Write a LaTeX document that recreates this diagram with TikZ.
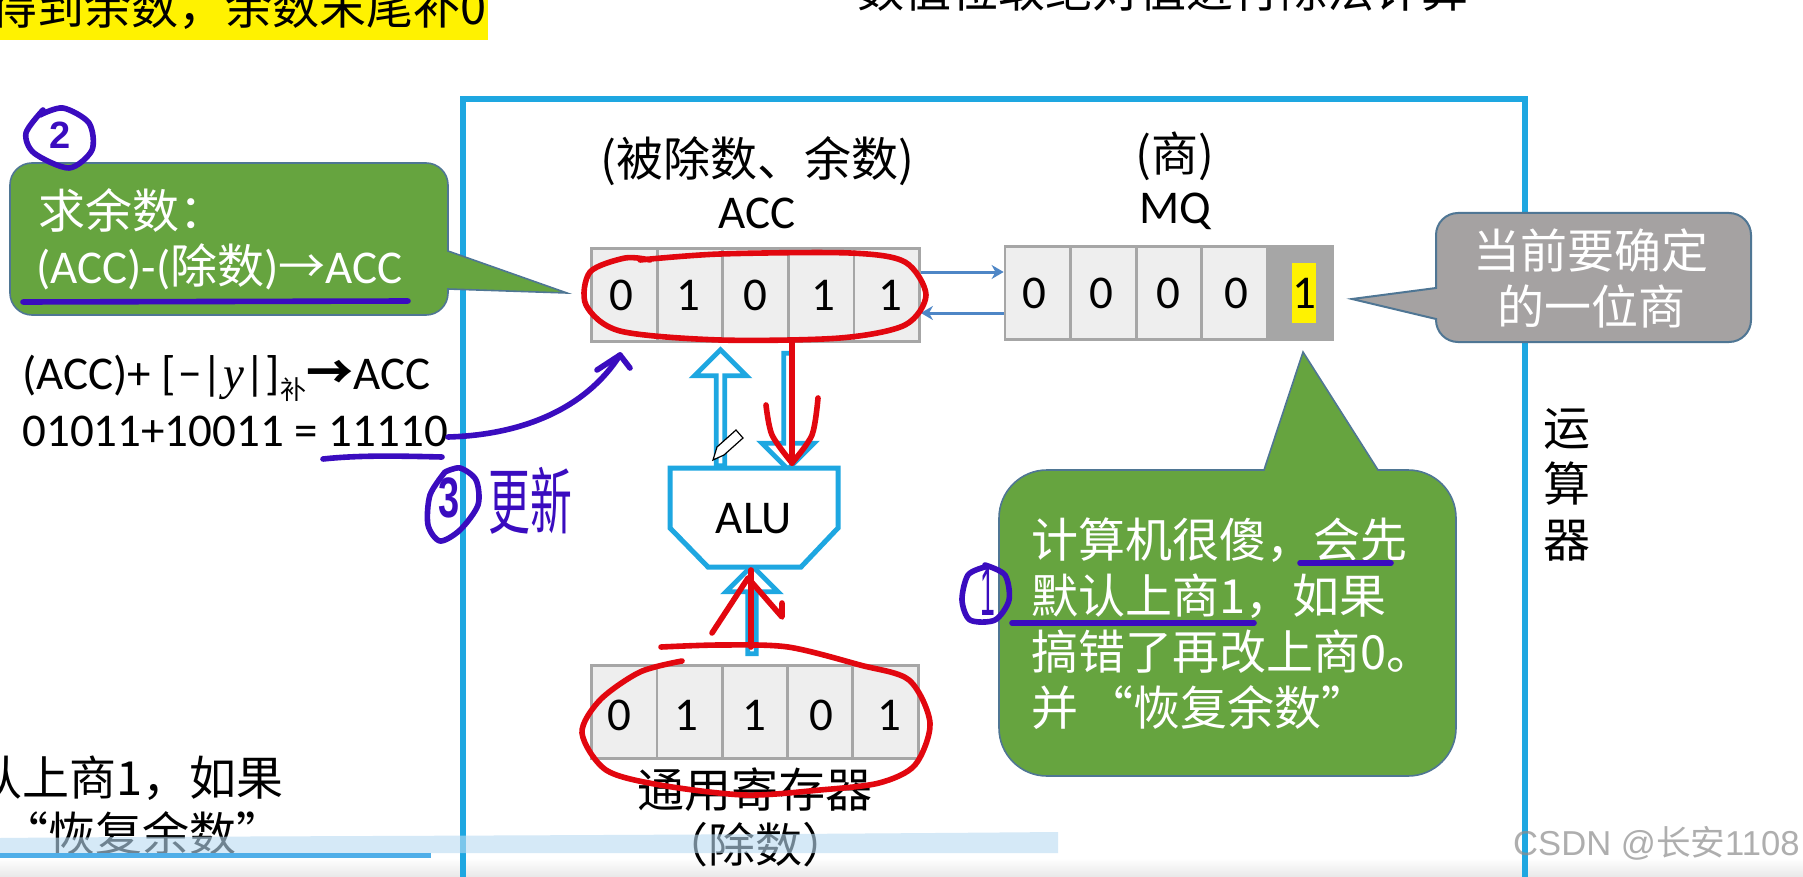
\documentclass[tikz,border=0pt]{standalone}
\usepackage{fontspec}
\setmainfont{Carlito}
\newfontfamily\cjk{Noto Sans CJK SC}
\newfontfamily\hand{Liberation Sans}
\newfontfamily\slanty{Liberation Serif}
\usetikzlibrary{shapes.arrows, arrows.meta}
\definecolor{framebl}{HTML}{1EA7E1}
\definecolor{cellbox}{HTML}{EEEEEE}
\definecolor{cellborder}{HTML}{A6A6A6}
\definecolor{linkbl}{HTML}{4E86C6}
\definecolor{greenbox}{HTML}{66A43F}
\definecolor{greyborder}{HTML}{4F7694}
\definecolor{greybox}{HTML}{A5A2A2}
\definecolor{penred}{HTML}{E2070F}
\definecolor{penpurple}{HTML}{3A0CBF}
\definecolor{barpale}{HTML}{B9DBF2}
\definecolor{bardark}{HTML}{4FAEE8}

\begin{document}
\begin{tikzpicture}[
    x=0.5pt, y=-0.5pt,
    every node/.style={font=\fontsize{23.5}{28}\selectfont, inner sep=0pt},
    cell/.style={rectangle, draw=cellborder, fill=cellbox, line width=1.4pt, minimum width=32.8pt, minimum height=46.5pt},
    blockarrow/.style={single arrow, draw=framebl, fill=white, line width=2.4pt, single arrow head extend=6pt, minimum width=26pt, single arrow tip angle=90},
    callgreen/.style={fill=greenbox, draw=greyborder, line width=0.8pt},
    callgrey/.style={fill=greybox, draw=greyborder, line width=1pt},
    redpen/.style={draw=penred, line width=2.8pt, line cap=round, line join=round},
    purplepen/.style={draw=penpurple, line width=2.8pt, line cap=round, line join=round},
    link/.style={linkbl, line width=1.5pt, -{Stealth[length=6pt,width=7pt]}}
]
\useasboundingbox (0,0) rectangle (1803,877);
\fill[white] (0,0) rectangle (1803,877);

% Bottom shade of the player
\shade[top color=white, bottom color=black!9] (0,858) rectangle (1803,877);

% Top lines, cut by the edge
\fill[yellow] (0,0) rectangle (488,40);
\node[anchor=east] (topleft) at (487,7) {\cjk 得到余数，余数末尾补0};
\node (topright) at (1163,-11) {\cjk 数值位取绝对值进行除法计算};

% Frame of the unit
\draw[framebl, line width=2.6pt] (463,900) -- (463,99) -- (1525,99) -- (1525,900);
\node[align=center] (unit) at (1567,485) {\cjk 运\\\cjk 算\\\cjk 器};

% Labels
\node[align=center] (acclabel) at (757,183) {{\cjk (被除数、余数)}\\[-2pt]ACC};
\node[align=center] (mqlabel) at (1175,181) {{\cjk (商)}\\[-2pt]MQ};
\node (reglabel) at (755,790) {\cjk 通用寄存器};
\node (divlabel) at (755,845) {\cjk （除数）};

% Registers
\foreach \i/\d in {1/0,2/1,3/0,4/1,5/1} {
    \node[cell] (acc\i) at ({591.5+32.8+65.6*(\i-1)},295) {};
    \node (accbit\i) at ({621+67.3*(\i-1)},295) {\d};
}
\foreach \i/\d in {1/0,2/0,3/0,4/0} {
    \node[cell] (mq\i) at ({1005+32.8+65.6*(\i-1)},293) {};
    \node (mqbit\i) at ({1034+67.3*(\i-1)},293) {\d};
}
\node[cell, fill=cellborder] (mq5) at ({1005+32.8+65.6*4},293) {};
\node[fill=yellow, minimum width=12pt, minimum height=30pt] (mqnow) at (1304,293) {1};
\foreach \i/\d in {1/0,2/1,3/1,4/0,5/1} {
    \node[cell] (reg\i) at ({592+32.6+65.2*(\i-1)},712) {};
    \node (regbit\i) at ({619+67.5*(\i-1)},715) {\d};
}

% Links between ACC and MQ
\draw[link] ([yshift=11.5pt]acc5.east) -- ([yshift=10.5pt]mq1.west);
\draw[link] ([yshift=-10pt]mq1.west) -- ([yshift=-9pt]acc5.east);

% Block arrows
\node[blockarrow, rotate=90, minimum height=58pt] (accup) at (720.5,410) {};
\node[blockarrow, rotate=-90, minimum height=58pt] (accdown) at (788,409) {};
\node[blockarrow, rotate=90, minimum height=44pt] (regup) at (752,612) {};

% ALU
\draw[framebl, line width=2.5pt, fill=white] (670,468) -- (838,468) -- (838,528) -- (801,567) -- (708,567) -- (670,528) -- cycle;
\node (alu) at (754,519) {ALU};

% Callouts
\draw[callgreen] (10,200) [rounded corners=11pt] -- (10,315) -- (448,315) [sharp corners] -- (448,289) -- (567,293) -- (448,251) [rounded corners=11pt] -- (448,163) -- (10,163) [sharp corners] -- cycle;
\node[anchor=west, text=white] (remtitle) at (38,210) {\cjk 求余数：};
\node[anchor=west, text=white] (remstep) at (36,267) {(ACC)-({\cjk 除数}){\cjk →}ACC};

\draw[callgrey] (1436,260) -- (1436,288) -- (1352,299) -- (1436,319) [rounded corners=11pt] -- (1436,342) -- (1751,342) -- (1751,213) -- (1436,213) [sharp corners] -- cycle;
\node[align=center, text=white] (nowtext) at (1591,278) {\cjk 当前要确定\\\cjk 的一位商};

\draw[callgreen] (1264,470) -- (1303,352) -- (1378,470) [rounded corners=24pt] -- (1456,470) -- (1456,776) -- (999,776) -- (999,470) [sharp corners] -- cycle;
\node[anchor=west, align=left, text=white] (guess) at (1031,623.5) {\cjk 计算机很傻，会先\\\cjk 默认上商1，如果\\\cjk 搞错了再改上商0。\\\cjk 并\hspace{4pt}“恢复余数”};

% Sum on the left
\node[anchor=west] (sumstep) at (22,378) {(ACC)+ [{\cjk\hspace{1pt}}−|{\slanty\itshape y}|]\raisebox{-5pt}{\fontsize{13}{13}\cjk 补}{\cjk\bfseries →}ACC};
\node[anchor=west] (sumnum) at (22,431) {01011+10011 = 11110};

% Lines cut by the left edge
\node[anchor=east] (cutone) at (284,778) {\cjk 认上商1，如果};
\node (cuttwo) at (143,833) {\cjk “恢复余数”};

% Pencil cursor
\draw[black, fill=white, line width=0.6pt] (713,460) -- (717,447) -- (736,430) -- (743,438) -- (724,455) -- cycle;

% Red pen
\draw[redpen] plot[smooth] coordinates {(640,260) (720,254) (850,253) (905,262) (926,295) (905,325) (840,338) (720,340) (620,331) (586,305) (590,272) (625,258) (650,260)};
\draw[redpen] (792,340) -- (792,463);
\draw[redpen] plot[smooth] coordinates {(766,405) (772,435) (792,463)};
\draw[redpen] plot[smooth] coordinates {(818,398) (812,435) (792,463)};
\draw[redpen] (751,647) -- (751,570);
\draw[redpen] (712,633) -- (748,578) -- (782,617) -- (782,603);
\draw[redpen] plot[smooth] coordinates {(682,661) (640,672) (600,700) (582,733) (606,770) (660,785) (745,795) (820,790) (879,783) (915,765) (930,723) (909,680) (860,665) (788,647) (720,645) (661,647)};

% Purple pen
\draw[purplepen] (23,302) -- (408,301);
\draw[purplepen] (323,459) .. controls (360,455) and (400,456) .. (442,457);
\draw[purplepen] (448,437) .. controls (520,435) and (585,410) .. (620,355);
\draw[purplepen] (597,370) -- (620,355) -- (630,368);
\draw[purplepen] (1300,563) -- (1391,563);
\draw[purplepen] (1012,623) -- (1254,623);
% circled marks
\draw[purplepen] plot[smooth] coordinates {(43,110) (26,133) (34,153) (69,168) (92,150) (89,123) (63,108) (40,115)};
\node[text=penpurple, font=\fontsize{19}{19}\hand\bfseries] (marktwo) at (60,135) {2};
\draw[purplepen] plot[smooth] coordinates {(445,472) (430,495) (428,525) (440,541) (460,530) (478,505) (476,480) (460,468) (445,472)};
\node[text=penpurple, font=\fontsize{19}{19}\hand\bfseries, yscale=1.5] (markthree) at (449,498) {3};
\node[text=penpurple, font=\fontsize{22}{22}\cjk, xscale=0.95, yscale=1.65] (markupdate) at (530,501) {更新};
\draw[purplepen] plot[smooth] coordinates {(985,567) (968,575) (962,600) (970,620) (995,620) (1009,600) (1005,575) (985,565)};
\node[text=penpurple, font=\fontsize{19}{19}\hand, xscale=0.7, yscale=1.8] (markone) at (988,592) {1};

% Player bars
\fill[barpale, opacity=0.6] (0,838) .. controls (200,836) and (600,836) .. (1058,832) -- (1058,853) -- (0,853) -- cycle;
\fill[bardark] (0,853) rectangle (431,858);

% Watermark
\node[anchor=east, text=black!45, text opacity=0.7, font=\fontsize{17.3}{18}\hand] (mark) at (1800,843) {CSDN @{\cjk 长安}1108};
\end{tikzpicture}
\end{document}
